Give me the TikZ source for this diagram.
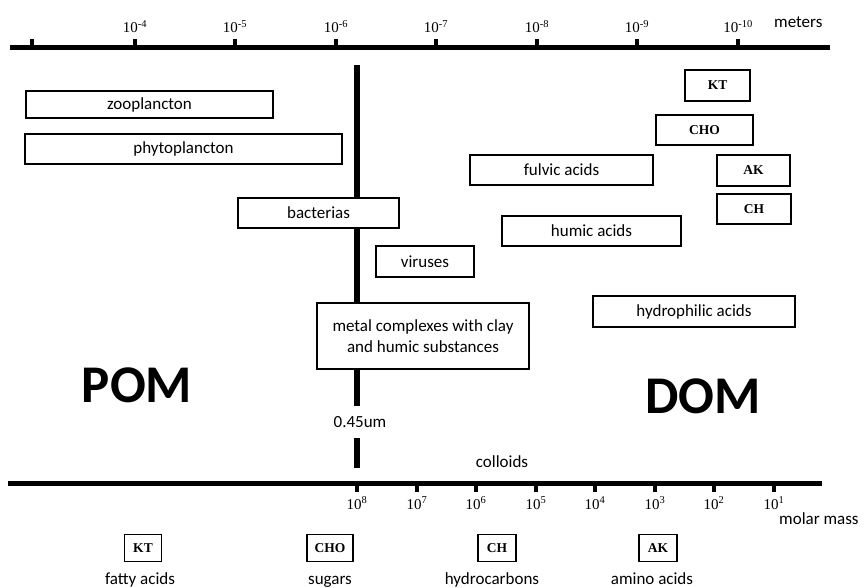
\documentclass[tikz,border=0pt]{standalone}
\usepackage{fontspec}
\setmainfont{Carlito}
\newfontfamily\tickfont{Liberation Serif}
\usetikzlibrary{positioning}

\newcommand{\pw}[2]{#1\textsuperscript{#2}}

\begin{document}
\begin{tikzpicture}[
    x=1pt,
    y=-1pt,
    axis/.style={
      line width=5pt
    },
    tick/.style={
      line width=4pt
    },
    sizebox/.style={
      draw,
      fill=white,
      line width=2.2pt,
      inner sep=0pt,
      font=\fontsize{17}{21}\selectfont
    },
    groupbox/.style={
      draw,
      fill=white,
      line width=2pt,
      inner sep=0pt,
      font=\tickfont\bfseries\fontsize{13.5}{15}\selectfont
    },
    ticklabel/.style={
      font=\tickfont\fontsize{15}{17}\selectfont,
      inner sep=1pt
    },
    caption/.style={
      font=\fontsize{17}{20}\selectfont,
      inner sep=1pt
    },
    bigtext/.style={
      font=\bfseries\fontsize{53}{58}\selectfont,
      inner sep=0pt
    }
  ]
    \useasboundingbox (0,0) rectangle (864,588);

    % size axis (meters)
    \coordinate (mstart) at (10,48);
    \coordinate (mend) at (830,48);
    \draw[axis] (mstart) -- (mend);
    \draw[tick] (32,48) -- ++(0,-9);
    \foreach \x/\e in {135/-4,235/-5,336/-6,436/-7,537/-8,637/-9,738/-10}
      \draw[tick] (\x,48) -- ++(0,-9) node[ticklabel,above=3pt] (m\e) {\pw{10}{\e}};
    \node[caption,anchor=west] (meters) at (773,22) {meters};

    % molar mass axis
    \coordinate (gstart) at (8,483);
    \coordinate (gend) at (822,483);
    \draw[axis] (gstart) -- (gend);
    \foreach \x/\e in {357/8,417/7,476/6,536/5,595/4,655/3,714/2,774/1}
      \draw[tick] (\x,483) -- ++(0,9) node[ticklabel,below=2pt] (g\e) {\pw{10}{\e}};
    \node[caption,anchor=west] (molar) at (778,519) {molar mass};

    % 0.45um cut
    \coordinate (cuttop) at (357,65);
    \coordinate (cutbot) at (357,468);
    \draw[line width=6pt] (cuttop) -- (cutbot);
    \node[caption,fill=white,minimum height=32pt] (cut) at (360,422) {0.45um};
    \node[caption] (colloids) at (502,462) {colloids};

    % particulate and dissolved fractions
    \node[sizebox,minimum width=247pt,minimum height=27pt] (zoo) at (149.5,104.5) {zooplancton};
    \node[sizebox,minimum width=317pt,minimum height=30pt] (phyto) at (183.5,149) {phytoplancton};
    \node[sizebox,minimum width=161pt,minimum height=30pt] (bact) at (318.5,213) {bacterias};
    \node[sizebox,minimum width=98pt,minimum height=31pt] (vir) at (425,261.5) {viruses};
    \node[sizebox,minimum width=212pt,minimum height=66pt,align=center] (metal) at (423,336)
      {metal complexes with clay\\and humic substances};
    \node[sizebox,minimum width=183pt,minimum height=30pt] (fulvic) at (561.5,170) {fulvic acids};
    \node[sizebox,minimum width=179pt,minimum height=30pt] (humic) at (591.5,231) {humic acids};
    \node[sizebox,minimum width=202pt,minimum height=31pt] (hydro) at (694,311.5) {hydrophilic acids};

    \node[groupbox,minimum width=65pt,minimum height=31pt] (kt) at (717.5,85.5) {KT};
    \node[groupbox,minimum width=97pt,minimum height=30pt] (cho) at (704.5,130) {CHO};
    \node[groupbox,minimum width=73pt,minimum height=31pt] (ak) at (753.5,170.5) {AK};
    \node[groupbox,minimum width=74pt,minimum height=30pt] (ch) at (754,209) {CH};

    \node[bigtext] (pom) at (137,385) {POM};
    \node[bigtext] (dom) at (703,396) {DOM};

    % compound groups
    \foreach \n/\x/\w/\t/\lx/\l in {ktb/143/37/KT/140/fatty acids,chob/330/46/CHO/330/sugars,chb/497/38/CH/492/hydrocarbons,akb/658/38/AK/652/amino acids}{
      \node[groupbox,line width=1.3pt,minimum width=\w pt,minimum height=27pt] (\n) at (\x,548) {\t};
      \node[caption,anchor=base] (\n l) at (\lx,584) {\l};
    }
  \end{tikzpicture}
\end{document}
